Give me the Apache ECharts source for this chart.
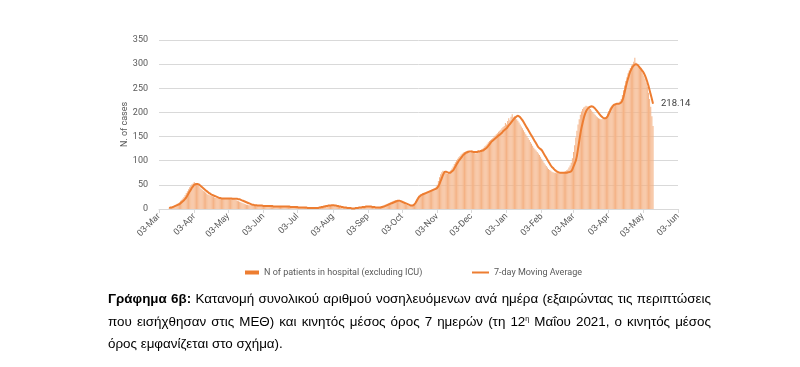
<!DOCTYPE html>
<html>
<head>
<meta charset="utf-8">
<script src="https://cdn.jsdelivr.net/npm/echarts@6/dist/echarts.min.js"></script>
<style>
  html, body { margin: 0; padding: 0; background: #fff; }
  #wrap { position: relative; width: 800px; height: 367px; overflow: hidden; }
  #chart { position: absolute; left: 0; top: 0; width: 800px; height: 367px; }
  #caption {
    position: absolute; left: 108px; top: 288px; width: 603px;
    font-family: "Liberation Sans", Arial, sans-serif; font-size: 13.4px;
    line-height: 22.5px; text-align: justify; color: #000;
  }
  #caption sup { font-size: 7px; vertical-align: 5px; line-height: 0; }
</style>
</head>
<body>
<div id="wrap">
  <div id="chart"></div>
  <div id="caption"><b>Γράφημα 6β:</b> Κατανομή συνολικού αριθμού νοσηλευόμενων ανά ημέρα (εξαιρώντας τις περιπτώσεις που εισήχθησαν στις ΜΕΘ) και κινητός μέσος όρος 7 ημερών (τη 12<sup>η</sup> Μαΐου 2021, ο κινητός μέσος όρος εμφανίζεται στο σχήμα).</div>
</div>
<script>
// Axis range (daily categories)
const axisStart = '2020-03-03';
const axisEnd = '2021-06-03';
// First day with data
const dataStart = '2020-03-12';
const yTicks = [0, 50, 100, 150, 200, 250, 300, 350];
const monthNames = ['Jan','Feb','Mar','Apr','May','Jun','Jul','Aug','Sep','Oct','Nov','Dec'];
const barName = 'N of patients in hospital (excluding ICU)';
const lineName = '7-day Moving Average';
const lastLabel = '218.14';

// Daily hospitalised patients (excluding ICU), from 2020-03-12
const hospitalised = [
  // Mar 2020 (12-31)
  2,3,4,5,6,8,9,11,12,14,17,19,22,25,29,33,37,41,45,48,
  // Apr 2020
  51,53,56,54,52,50,48,45,42,40,38,36,34,32,30,29,28,27,26,25,24,23,23,22,22,22,22,22,23,22,
  // May 2020
  22,21,22,21,20,22,21,20,19,18,17,16,15,14,13,12,11,10,9,9,8,8,8,7,7,7,7,6,7,6,6,
  // Jun 2020
  6,6,6,6,6,5,6,6,5,5,5,5,5,5,5,5,4,5,5,5,5,4,5,4,4,4,4,4,3,3,
  // Jul 2020
  3,3,3,3,3,3,3,3,3,2,2,2,2,2,2,2,2,2,3,3,4,4,5,5,6,6,7,7,8,8,8,
  // Aug 2020
  8,7,7,6,6,5,5,4,4,3,3,3,2,2,2,1,1,1,1,2,2,2,3,3,3,4,4,4,5,5,5,
  // Sep 2020
  5,5,5,4,4,4,3,3,3,3,3,4,4,5,6,7,8,9,10,11,12,13,14,15,16,17,18,18,17,16,
  // Oct 2020
  15,14,13,12,11,10,9,8,7,6,6,7,9,12,17,21,25,28,30,31,32,33,34,35,36,37,38,39,40,41,42,
  // Nov 2020
  43,46,50,58,66,72,76,79,78,75,74,73,75,77,80,84,88,93,97,101,104,107,110,113,115,117,118,119,120,121,
  // Dec 2020
  119,116,121,118,117,120,115,119,122,118,121,124,125,127,130,132,135,138,141,143,145,147,150,152,155,157,160,162,164,167,170,
  // Jan 2021
  172,178,175,182,188,184,191,196,190,192,190,186,183,179,175,171,167,163,159,155,151,147,143,139,135,131,127,124,121,118,115,
  // Feb 2021
  112,108,104,100,96,92,89,86,83,81,79,77,76,75,75,74,75,75,76,75,76,76,77,78,80,82,86,90,
  // Mar 2021
  96,105,118,132,148,162,175,186,195,202,207,210,212,214,213,212,210,207,204,201,198,195,192,190,188,187,186,186,187,188,190,
  // Apr 2021
  192,198,203,208,212,215,217,218,218,219,219,220,223,228,236,246,256,265,273,281,287,292,297,300,305,313,303,300,297,294,
  // May 2021 (1-12)
  290,286,281,276,270,262,253,241,228,212,192,172
];

// 7-day moving average, from 2020-03-12
const movingAvg = [
  // Mar 2020 (12-31)
  2,3,3,4,5,6,7,8,9,10,12,14,16,18,21,24,28,32,36,40,
  // Apr 2020
  44,47,50,51,52,52,51,49,47,45,43,41,39,37,35,33,32,30,29,28,27,26,25,24,23,23,22,22,22,22,
  // May 2020
  22,22,22,22,22,22,21,21,21,21,21,20,20,19,18,17,16,15,14,13,12,11,10,9,9,8,8,8,7,7,7,
  // Jun 2020
  7,7,6,6,6,6,6,6,6,6,6,5,5,5,5,5,5,5,5,5,5,5,5,5,5,5,4,4,4,4,
  // Jul 2020
  4,4,4,3,3,3,3,3,3,3,3,2,2,2,2,2,2,2,2,2,2,3,3,4,4,5,5,6,6,7,7,
  // Aug 2020
  7,8,8,8,7,7,6,6,5,5,4,4,3,3,3,2,2,2,2,1,1,1,2,2,2,3,3,3,4,4,4,
  // Sep 2020
  5,5,5,5,5,5,4,4,4,3,3,3,3,3,4,4,5,6,7,8,9,10,11,12,13,14,15,16,17,17,
  // Oct 2020
  17,16,15,14,13,12,11,10,9,8,7,7,8,10,13,17,21,25,27,29,30,31,32,33,34,35,36,37,38,39,40,
  // Nov 2020
  41,42,44,47,52,58,64,70,75,77,77,76,75,75,76,78,80,84,88,92,96,100,103,106,109,112,114,116,117,118,
  // Dec 2020
  119,119,119,119,118,118,118,118,119,119,120,120,121,122,124,126,128,131,134,137,140,142,144,146,148,150,152,154,156,158,161,
  // Jan 2021
  163,165,167,170,173,176,179,182,185,188,190,192,193,192,190,187,184,180,176,172,168,164,160,156,152,148,144,140,136,132,128,
  // Feb 2021
  126,124,122,118,114,110,106,102,98,94,90,87,85,82,80,78,77,76,75,75,75,75,75,75,75,76,76,77,
  // Mar 2021
  78,82,88,94,100,110,125,140,155,168,178,188,196,202,206,209,211,212,213,212,210,208,205,202,199,196,193,191,189,188,188,
  // Apr 2021
  189,192,197,202,207,211,214,216,217,218,218,218,219,221,225,232,242,252,262,270,278,285,290,294,297,299,300,299,297,294,
  // May 2021 (1-12)
  291,288,285,281,276,270,263,255,246,237,228,218.14
];

// Build daily categories
function parseD(s) { const p = s.split('-').map(Number); return new Date(Date.UTC(p[0], p[1]-1, p[2])); }
function fmtD(d) { return d.toISOString().slice(0, 10); }
const categories = [];
for (let d = parseD(axisStart); d <= parseD(axisEnd); d = new Date(d.getTime() + 86400000)) {
  categories.push(fmtD(d));
}
const offset = categories.indexOf(dataStart);
const barData = categories.map((c, i) => {
  const k = i - offset; return (k >= 0 && k < hospitalised.length) ? hospitalised[k] : null;
});
const lineData = categories.map((c, i) => {
  const k = i - offset; return (k >= 0 && k < movingAvg.length) ? movingAvg[k] : null;
});
const lastIdx = offset + movingAvg.length - 1;

const isThird = (idx, val) => val.slice(8, 10) === '03';
const legendText = { color: '#595959', fontSize: 9, fontFamily: 'Roboto' };

const chart = echarts.init(document.getElementById('chart'), null, { renderer: 'canvas' });
chart.setOption({
  animation: false,
  backgroundColor: '#fff',
  grid: { left: 159, right: 122, top: 40, bottom: 158, containLabel: false },
  legend: [
    {
      left: 240, top: 263, itemWidth: 14, itemHeight: 4, textStyle: legendText,
      data: [{ name: barName, icon: 'rect', itemStyle: { color: '#ED7D31' } }]
    },
    {
      left: 467, top: 263, itemWidth: 17, itemHeight: 2, itemGap: 2, textStyle: legendText,
      data: [{ name: lineName, icon: 'rect', itemStyle: { color: '#ED7D31' } }]
    }
  ],
  xAxis: {
    type: 'category',
    data: categories,
    boundaryGap: false,
    axisLine: { lineStyle: { color: '#D9D9D9' } },
    axisTick: { show: true, interval: isThird, length: 4, lineStyle: { color: '#D9D9D9' } },
    axisLabel: {
      interval: isThird, rotate: 45, color: '#595959', fontSize: 9, fontFamily: 'Roboto', margin: 6,
      formatter: v => v.slice(8, 10) + '-' + monthNames[Number(v.slice(5, 7)) - 1]
    },
    splitLine: { show: false }
  },
  yAxis: {
    type: 'value', min: yTicks[0], max: yTicks[yTicks.length - 1], interval: 50,
    name: 'N. of cases', nameLocation: 'middle', nameGap: 30, nameRotate: 90,
    nameMoveOverlap: false,
    nameTextStyle: { color: '#595959', fontSize: 9, fontFamily: 'Roboto' },
    axisLine: { show: false }, axisTick: { show: false },
    axisLabel: { color: '#595959', fontSize: 9, fontFamily: 'Roboto', margin: 11 },
    splitLine: { lineStyle: { color: '#D9D9D9', width: 1 } }
  },
  series: [
    {
      name: barName, type: 'bar', data: barData, barWidth: '70%',
      itemStyle: { color: '#F4B285' },
      emphasis: { disabled: true }
    },
    {
      name: lineName, type: 'line', data: lineData, symbol: 'none', showSymbol: false,
      smooth: 0.2, connectNulls: false,
      lineStyle: { color: '#ED7D31', width: 2 }, itemStyle: { color: '#ED7D31' },
      emphasis: { disabled: true },
      markPoint: {
        silent: true, symbol: 'circle', symbolSize: 0, animation: false,
        data: [{
          coord: [categories[lastIdx], movingAvg[movingAvg.length - 1]],
          label: { show: true, position: 'right', distance: 8, formatter: lastLabel,
                   color: '#404040', fontSize: 9.5, fontFamily: 'Roboto' }
        }]
      }
    }
  ]
});
</script>
</body>
</html>
